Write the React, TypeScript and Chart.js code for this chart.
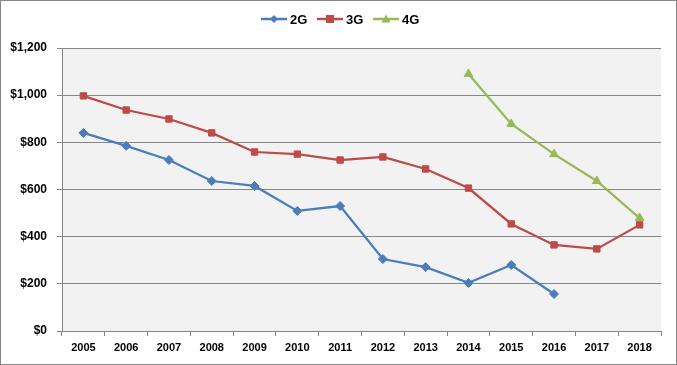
import React, { useEffect, useRef } from "react";
import { Chart, registerables } from "chart.js";

Chart.register(...registerables);

const years = ["2005","2006","2007","2008","2009","2010","2011","2012","2013","2014","2015","2016","2017","2018"];
const g2 = [840, 785, 725, 636, 615, 509, 530, 305, 271, 204, 280, 157, null, null];
const g3 = [997, 937, 899, 840, 759, 750, 725, 738, 687, 606, 454, 365, 348, 450];
const g4 = [null, null, null, null, null, null, null, null, null, 1090, 878, 750, 636, 479];
const seriesNames = ["2G", "3G", "4G"];
const colors = ["#4A7EBB", "#BE4B48", "#98B954"];
const markers = ["rectRot", "rect", "triangle"];

const FONT = "'Liberation Sans', Arial, sans-serif";

const bgPlugin = {
  id: "plotBg",
  beforeDraw(chart: any) {
    const { ctx, chartArea } = chart;
    ctx.save();
    ctx.fillStyle = "#F2F2F2";
    ctx.fillRect(chartArea.left, chartArea.top, chartArea.right - chartArea.left, chartArea.bottom - chartArea.top);
    ctx.restore();
  },
};

const legendPlugin = {
  id: "customLegend",
  afterDraw(chart: any) {
    const { ctx } = chart;
    const y = 18;
    const starts = [260, 316, 372];
    ctx.save();
    seriesNames.forEach((name, i) => {
      const x0 = starts[i];
      ctx.strokeStyle = colors[i];
      ctx.lineWidth = 2.5;
      ctx.beginPath();
      ctx.moveTo(x0, y);
      ctx.lineTo(x0 + 26, y);
      ctx.stroke();
      ctx.fillStyle = colors[i];
      const cx = x0 + 13;
      ctx.beginPath();
      if (i === 0) {
        ctx.moveTo(cx, y - 4); ctx.lineTo(cx + 4, y); ctx.lineTo(cx, y + 4); ctx.lineTo(cx - 4, y);
      } else if (i === 1) {
        ctx.rect(cx - 4, y - 4, 8, 8);
      } else {
        ctx.moveTo(cx, y - 4.5); ctx.lineTo(cx + 4.5, y + 3.5); ctx.lineTo(cx - 4.5, y + 3.5);
      }
      ctx.closePath();
      ctx.fill();
      ctx.fillStyle = "#000";
      ctx.font = `bold 13px ${FONT}`;
      ctx.textBaseline = "middle";
      ctx.textAlign = "left";
      ctx.fillText(name, x0 + 29, y + 1);
    });
    ctx.restore();
  },
};

export default function App() {
  const ref = useRef<HTMLCanvasElement>(null);
  useEffect(() => {
    const data = [g2, g3, g4];
    const chart = new Chart(ref.current!, {
      type: "line",
      data: {
        labels: years,
        datasets: seriesNames.map((n, i) => ({
          label: n,
          data: data[i],
          borderColor: colors[i],
          backgroundColor: colors[i],
          borderWidth: 2.25,
          pointStyle: markers[i] as any,
          pointRadius: i === 2 ? 5 : 4.5,
          pointBorderWidth: 1,
          tension: 0,
          spanGaps: false,
        })),
      },
      options: {
        animation: false,
        responsive: false,
        layout: { padding: { top: 47, right: 15, left: 0, bottom: 0 } },
        plugins: { legend: { display: false }, tooltip: { enabled: false } },
        scales: {
          x: {
            offset: true,
            grid: {
              offset: true,
              drawOnChartArea: false,
              drawTicks: true,
              tickLength: 5,
              color: "#868686",
            },
            border: { color: "#868686", width: 1 },
            ticks: {
              color: "#000",
              font: { family: FONT, size: 11, weight: "bold" },
              padding: 5,
              maxRotation: 0,
              autoSkip: false,
            },
            afterFit(scale: any) { scale.height = 33; },
          },
          y: {
            min: 0,
            max: 1200,
            grid: { color: "#868686", tickLength: 5, lineWidth: 1 },
            border: { color: "#868686", width: 1 },
            ticks: {
              stepSize: 200,
              color: "#000",
              padding: 10,
              font: { family: FONT, size: 12, weight: "bold" },
              callback: (v: any) => "$" + Number(v).toLocaleString("en-US"),
            },
            afterFit(scale: any) { scale.width = 61; },
          },
        },
      },
      plugins: [bgPlugin, legendPlugin],
    });
    return () => chart.destroy();
  }, []);
  return (
    <div style={{ position: "fixed", left: 0, top: 0, width: 675, height: 363, border: "1px solid #868686", background: "#fff" }}>
      <canvas ref={ref} width={675} height={363} style={{ display: "block" }} />
    </div>
  );
}
